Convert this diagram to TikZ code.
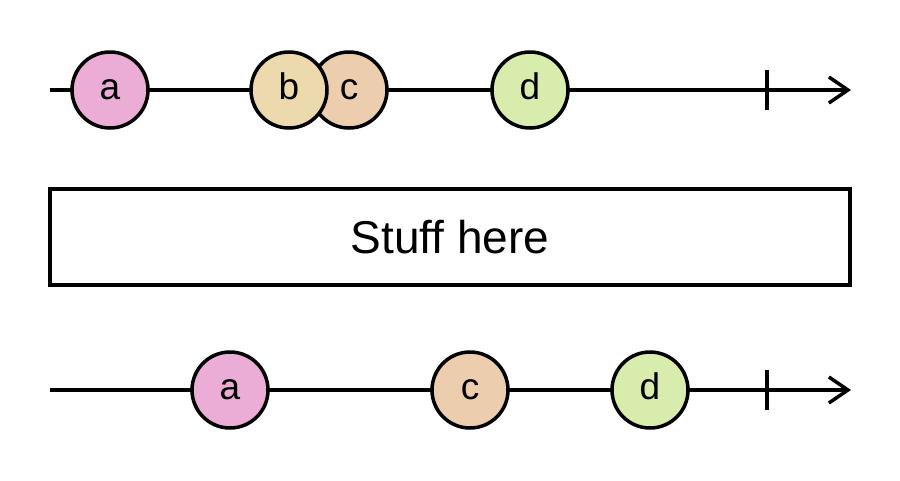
\documentclass[tikz,border=0pt]{standalone}
\usepackage{fontspec}
\setmainfont{Liberation Sans}
\usetikzlibrary{arrows.meta}

\definecolor{marbleA}{HTML}{EBACD6}
\definecolor{marbleB}{HTML}{ECDAAE}
\definecolor{marbleC}{HTML}{ECCEAE}
\definecolor{marbleD}{HTML}{D8ECAE}

\begin{document}
\begin{tikzpicture}[
  x=1pt,
  y=-1pt,
  marble/.style={
    draw,
    circle,
    line width=3.5pt,
    minimum size=76pt,
    inner sep=0pt,
    text height=18pt,
    text depth=0pt,
    font=\fontsize{37}{37}\selectfont
  },
  timeline/.style={
    line width=3.5pt,
    -{Straight Barb[length=19pt,width=26pt]}
  },
  tickmark/.style={
    line width=3.5pt
  },
  operator/.style={
    draw,
    rectangle,
    line width=3.5pt,
    minimum width=800pt,
    minimum height=96pt,
    inner sep=0pt,
    font=\fontsize{46}{46}\selectfont
  }
]

\useasboundingbox (0,0) rectangle (900,480);

% Timelines
\coordinate (in-start) at (50,90);
\coordinate (in-end) at (851,90);
\coordinate (out-start) at (50,390);
\coordinate (out-end) at (851,390);
\draw[timeline] (in-start) -- (in-end);
\draw[timeline] (out-start) -- (out-end);

% Completion ticks
\coordinate (in-tick-top) at (767,70);
\coordinate (in-tick-bot) at (767,110);
\coordinate (out-tick-top) at (767,370);
\coordinate (out-tick-bot) at (767,410);
\draw[tickmark] (in-tick-top) -- (in-tick-bot);
\draw[tickmark] (out-tick-top) -- (out-tick-bot);

% Input marbles
\node[marble, fill=marbleA] (in-a) at (110,90) {a};
\node[marble, fill=marbleC] (in-c) at (349,90) {c};
\node[marble, fill=marbleB] (in-b) at (289,90) {b};
\node[marble, fill=marbleD] (in-d) at (530,90) {d};

% Operator
\node[operator] (stuff) at (450,237) {Stuff here};

% Output marbles
\foreach \name/\xpos/\col in {a/230/marbleA, c/470/marbleC, d/650/marbleD} {
  \node[marble, fill=\col] (out-\name) at (\xpos,390) {\name};
}

\end{tikzpicture}
\end{document}
